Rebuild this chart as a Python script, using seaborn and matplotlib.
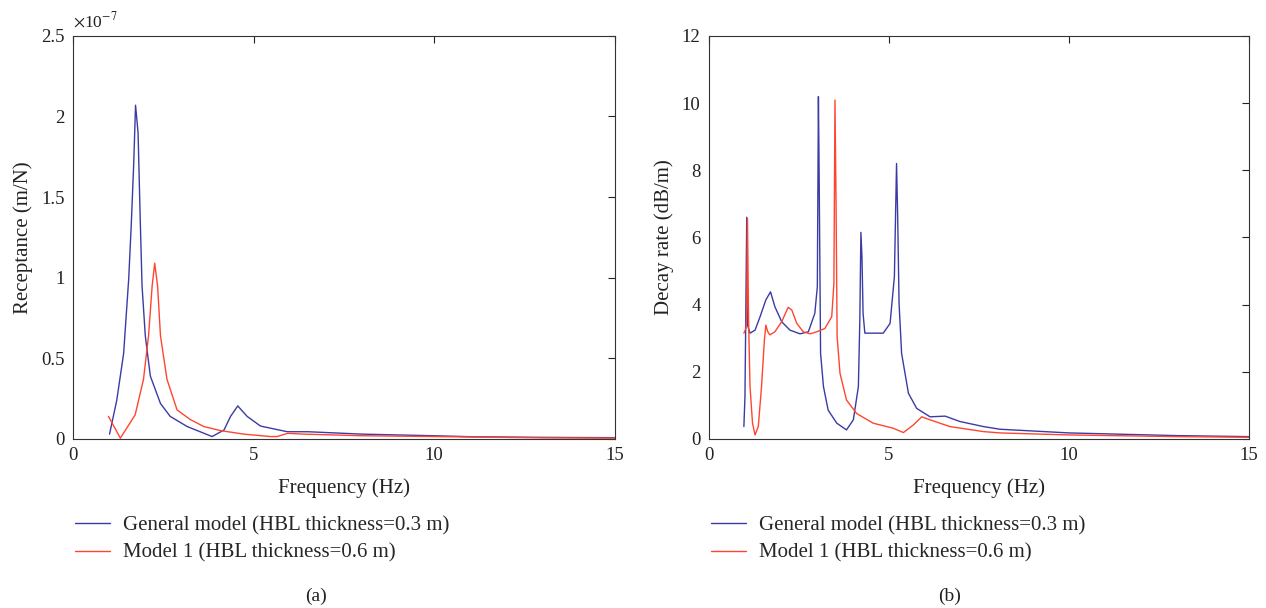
import numpy as np
import pandas as pd
import matplotlib
matplotlib.use("Agg")
import matplotlib.pyplot as plt
import seaborn as sns

sns.set_theme(style="white")
plt.rcParams['font.family'] = ['Liberation Serif', 'DejaVu Serif']
plt.rcParams['mathtext.fontset'] = 'stix'

# ---------------- data (a): receptance, in units of 1e-7 m/N ----------------
rec_gen_f = [1.01, 1.21, 1.40, 1.54, 1.61, 1.68, 1.73, 1.80, 1.86, 1.91, 2.00, 2.14, 2.42,
             2.69, 3.16, 3.85, 4.18, 4.36, 4.56, 4.82, 5.19, 5.93, 6.5, 8.0, 10.0, 11.0, 13.0, 15.0]
rec_gen_v = [0.03, 0.24, 0.53, 0.99, 1.32, 1.71, 2.07, 1.90, 1.36, 0.95, 0.64, 0.39, 0.22,
             0.14, 0.077, 0.015, 0.056, 0.14, 0.205, 0.14, 0.08, 0.045, 0.045, 0.03, 0.02, 0.014, 0.01, 0.008]
rec_m1_f = [0.98, 1.31, 1.72, 1.95, 2.09, 2.19, 2.26, 2.34, 2.42, 2.60, 2.88, 3.25, 3.62,
            4.08, 4.73, 5.47, 5.65, 5.94, 6.4, 8.0, 10.0, 13.0, 15.0]
rec_m1_v = [0.14, 0.005, 0.15, 0.37, 0.64, 0.95, 1.09, 0.95, 0.64, 0.37, 0.18, 0.12, 0.077,
            0.052, 0.03, 0.015, 0.015, 0.035, 0.03, 0.02, 0.015, 0.007, 0.005]

# ---------------- data (b): decay rate, dB/m ----------------
dec_gen_f = [0.97, 1.00, 1.05, 1.07, 1.14, 1.28, 1.42, 1.58, 1.71, 1.83, 2.02, 2.25, 2.53,
             2.76, 2.94, 3.01, 3.04, 3.06, 3.10, 3.18, 3.31, 3.55, 3.82, 4.01, 4.15, 4.19,
             4.22, 4.25, 4.28, 4.33, 4.84, 5.03, 5.15, 5.21, 5.24, 5.28, 5.35, 5.54, 5.77,
             6.14, 6.56, 6.97, 7.62, 8.08, 10.0, 13.0, 15.0]
dec_gen_v = [0.37, 1.26, 6.6, 3.39, 3.15, 3.24, 3.64, 4.14, 4.38, 3.94, 3.49, 3.24, 3.13,
             3.19, 3.74, 4.53, 10.19, 7.9, 2.55, 1.56, 0.86, 0.47, 0.27, 0.57, 1.56, 3.54,
             6.15, 5.4, 3.74, 3.15, 3.15, 3.44, 4.83, 8.2, 6.7, 4.04, 2.55, 1.36, 0.91,
             0.66, 0.68, 0.52, 0.37, 0.29, 0.18, 0.1, 0.07]
dec_m1_f = [0.97, 1.03, 1.05, 1.07, 1.10, 1.14, 1.21, 1.28, 1.37, 1.46, 1.54, 1.58, 1.63,
            1.69, 1.83, 2.02, 2.20, 2.30, 2.44, 2.62, 2.81, 2.99, 3.22, 3.41, 3.47, 3.50,
            3.53, 3.56, 3.64, 3.82, 4.10, 4.56, 5.12, 5.40, 5.68, 5.91, 6.14, 6.69, 7.62,
            8.08, 10.0, 13.0, 15.0]
dec_m1_v = [3.15, 3.3, 3.94, 6.57, 3.54, 1.56, 0.47, 0.12, 0.37, 1.56, 2.95, 3.39, 3.2,
            3.1, 3.19, 3.49, 3.92, 3.84, 3.44, 3.19, 3.13, 3.19, 3.29, 3.64, 4.63, 10.09,
            7.0, 3.04, 1.95, 1.16, 0.76, 0.47, 0.32, 0.19, 0.42, 0.66, 0.57, 0.37, 0.22,
            0.18, 0.12, 0.07, 0.05]

labels = ["General model (HBL thickness=0.3 m)", "Model 1 (HBL thickness=0.6 m)"]
colors = ["#3b3ba6", "#ff4530"]


def frame(f1, v1, f2, v2):
    return pd.concat([
        pd.DataFrame({"f": f1, "v": v1, "model": labels[0]}),
        pd.DataFrame({"f": f2, "v": v2, "model": labels[1]}),
    ], ignore_index=True)


df_a = frame(rec_gen_f, rec_gen_v, rec_m1_f, rec_m1_v)
df_b = frame(dec_gen_f, dec_gen_v, dec_m1_f, dec_m1_v)

fig = plt.figure(figsize=(12.66, 6.08), dpi=100)
ax1 = fig.add_axes([0.0577, 0.278, 0.428, 0.663])
ax2 = fig.add_axes([0.560, 0.278, 0.4266, 0.663])

for ax, df in [(ax1, df_a), (ax2, df_b)]:
    sns.lineplot(data=df, x="f", y="v", hue="model", palette=colors, sort=False,
                 estimator=None, linewidth=1.0, ax=ax, legend=True)
    ax.set_xlim(0, 15)
    ax.set_xticks([0, 5, 10, 15])
    ax.tick_params(direction="in", top=True, right=True, length=5, width=0.8,
                   labelsize=13.5, colors="#222222", pad=6)
    for s in ax.spines.values():
        s.set_color("#333333")
        s.set_linewidth(0.8)
    ax.set_xlabel("Frequency (Hz)", fontsize=15, color="#222222", labelpad=10)
    handles, labs = ax.get_legend_handles_labels()
    ax.legend(handles, labs, loc="upper left", bbox_to_anchor=(-0.012, -0.17),
              frameon=False, fontsize=15, handlelength=1.7, handletextpad=0.6,
              labelspacing=0.38, borderaxespad=0)

ax1.set_ylim(0, 2.5)
ax1.set_yticks([0, 0.5, 1, 1.5, 2, 2.5])
ax1.set_yticklabels(["0", "0.5", "1", "1.5", "2", "2.5"])
ax1.set_ylabel("Receptance (m/N)", fontsize=15, color="#222222", labelpad=6)
ax1.text(0.0, 1.012, r"$\times$10$^{\mathrm{-7}}$", transform=ax1.transAxes,
         fontsize=12.5, ha="left", va="bottom", color="#222222")

ax2.set_ylim(0, 12)
ax2.set_yticks([0, 2, 4, 6, 8, 10, 12])
ax2.set_ylabel("Decay rate (dB/m)", fontsize=15, color="#222222", labelpad=6)

fig.text(0.2495, 0.005, "(a)", fontsize=14, ha="center", va="bottom", color="#222222")
fig.text(0.7500, 0.005, "(b)", fontsize=14, ha="center", va="bottom", color="#222222")

fig.savefig("out.png", dpi=100)
